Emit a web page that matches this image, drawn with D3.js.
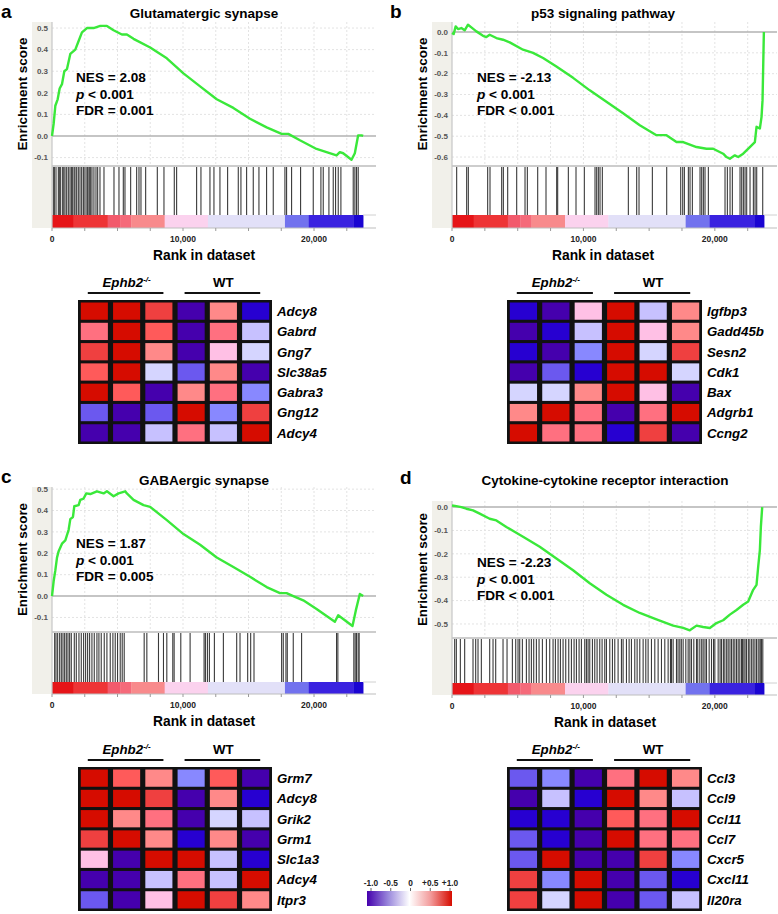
<!DOCTYPE html>
<html><head><meta charset="utf-8">
<script src="https://cdn.jsdelivr.net/npm/d3@7"></script>
<style>
body{margin:0;background:#fff}
svg{display:block;font-family:Arial,"Liberation Sans",Helvetica,sans-serif}
</style>
</head><body>
<svg id="fig" width="778" height="914"></svg>
<script>
// ---------------- DATA ----------------
const N_RANKED = 23750;          // genes in ranked list
const RANK_AXIS_MAX = 24730;     // right end of rank axis
const rankTicks = [0,2500,5000,7500,10000,12500,15000,17500,20000,22500];
const rankTickLabels = [0,10000,20000];

// ranked-list ramp (rank breakpoints and metric level of each block)
const rampBreaks = [0,1650,4250,5200,6050,8600,11900,17780,19600,23000,23750];
const rampLevels = [1.0,0.85,0.65,0.55,0.4,0.15,-0.1,-0.5,-0.8,-1.0];

// a: Glutamatergic synapse
const glutESRank  = [0,127,254,432,584,762,940,1143,1397,1778,2032,2286,2667,3175,3683,4191,4699,5334,5715,6223,7493,8763,10033,11303,12573,13843,15113,16383,17526,18034,18923,20193,20955,21717,21971,22225,22860,23114,23368,23622,23750];
const glutESValue = [0,0.057,0.14,0.17,0.22,0.24,0.30,0.31,0.38,0.40,0.44,0.48,0.50,0.50,0.51,0.51,0.49,0.47,0.47,0.45,0.41,0.36,0.29,0.23,0.17,0.13,0.08,0.04,0.01,0.01,-0.02,-0.06,-0.075,-0.09,-0.075,-0.08,-0.11,-0.08,0.003,0.003,0];
const glutHits = [100,180,305,483,560,661,814,900,992,1120,1246,1373,1480,1577,1690,1755,1882,2009,2136,2264,2391,2450,2594,2696,2750,2849,2951,3052,3200,3357,3485,3662,3968,4731,5112,5443,5570,6003,6461,6639,6791,7148,8038,8546,9334,9512,11038,11369,12056,12361,12819,13404,14218,14421,14854,15362,15795,16379,16888,17778,17905,18287,18974,19941,20525,20703,21136,21466,21644,21848,22051,22992,23119,23246,23373];
const glutStats = ["NES = 2.08","< 0.001","FDR = 0.001"];
const glutGenes = ["Adcy8","Gabrd","Gng7","Slc38a5","Gabra3","Gng12","Adcy4"];
const glutHeat = [
  [0.92,0.92,0.75,-0.92,0.25,-0.75],
  [0.42,0.92,0.58,-0.92,0.42,-0.25],
  [0.75,0.92,0.25,-0.92,0.08,-0.08],
  [0.58,0.92,-0.08,-0.58,0.25,-0.92],
  [0.92,0.58,-0.92,0.25,0.42,-0.42],
  [-0.58,-0.92,-0.58,0.92,-0.42,0.75],
  [-0.92,-0.92,-0.25,0.42,-0.25,0.92]
];

// b: p53 signaling pathway
const p53ESRank  = [0,127,279,457,711,964,1218,1472,1853,2360,2614,2868,3376,3883,4391,5406,6167,6929,7944,9213,10482,11751,13020,14289,15558,16319,17081,17588,18604,19365,19873,20634,20888,21142,21522,21776,22157,22664,23045,23172,23426,23553,23629,23680,23731];
const p53ESValue = [-0.005,-0.01,0.027,0.014,0.019,0.008,0.035,0.022,0.003,-0.018,-0.024,-0.013,-0.029,-0.037,-0.05,-0.085,-0.10,-0.125,-0.166,-0.22,-0.28,-0.335,-0.39,-0.447,-0.495,-0.495,-0.528,-0.528,-0.552,-0.56,-0.56,-0.584,-0.60,-0.608,-0.592,-0.60,-0.584,-0.552,-0.528,-0.455,-0.463,-0.407,-0.327,-0.166,0];
const p53Hits = [355,1116,1243,2714,2892,3780,3907,4237,4922,5556,5734,6520,7153,7965,8041,8853,9436,10070,10882,11009,11136,11263,11440,13419,14053,14231,15246,16337,17403,17555,17682,17986,18112,18290,18873,19000,19127,19253,19507,20775,20953,21156,21333,21917,22044,22171,22298,22424,22678,22932,23059,23186,23643];
const p53Stats = ["NES = -2.13","< 0.001","FDR < 0.001"];
const p53Genes = ["Igfbp3","Gadd45b","Sesn2","Cdk1","Bax","Adgrb1","Ccng2"];
const p53Heat = [
  [-0.75,-0.92,0.08,0.92,-0.25,0.25],
  [-0.92,-0.75,-0.25,0.92,0.08,0.25],
  [-0.75,-0.92,-0.42,0.92,-0.08,0.75],
  [-0.92,-0.58,-0.75,0.92,0.92,-0.08],
  [-0.08,-0.08,0.25,0.92,0.08,-0.92],
  [0.25,0.92,0.42,-0.92,0.42,0.92],
  [0.92,0.42,0.42,-0.75,0.75,-0.92]
];

// c: GABAergic synapse
const gabaESRank  = [0,127,254,381,508,762,1016,1270,1397,1600,1702,2032,2159,2413,2616,2921,3429,3937,4191,4699,5080,5588,5715,6223,6985,7493,8763,10033,11303,12573,13843,15113,16383,17399,17907,18415,19177,20193,21590,21844,22936,23190,23495,23750];
const gabaESValue = [0,0.07,0.12,0.18,0.21,0.245,0.26,0.31,0.36,0.37,0.42,0.425,0.45,0.456,0.48,0.477,0.49,0.48,0.49,0.467,0.48,0.49,0.48,0.45,0.425,0.417,0.355,0.29,0.24,0.18,0.136,0.09,0.042,0.014,0.014,0,-0.02,-0.06,-0.12,-0.09,-0.14,-0.067,0.01,0];
const gabaHits = [203,305,432,584,711,838,965,1092,1219,1346,1473,1702,1854,2057,2235,2413,2565,2718,2870,3048,3226,3429,3581,3759,3988,4191,4445,4648,4826,5004,5207,5359,5512,7036,7239,8128,8509,8763,9220,9322,9830,10541,11608,11709,11862,12014,12395,13081,14097,14351,14935,15164,15418,17526,17653,17856,17958,18415,19050,21717,21819,23038,23139,23241,23368,23444];
const gabaStats = ["NES = 1.87","< 0.001","FDR = 0.005"];
const gabaGenes = ["Grm7","Adcy8","Grik2","Grm1","Slc1a3","Adcy4","Itpr3"];
const gabaHeat = [
  [0.92,0.58,0.25,-0.42,0.58,-0.92],
  [0.92,0.92,0.75,-0.92,0.25,-0.75],
  [0.92,0.25,0.42,-0.92,-0.08,-0.25],
  [0.75,0.92,0.25,-0.75,0.25,-0.92],
  [0.08,-0.92,0.92,0.92,-0.25,-0.75],
  [-0.92,-0.92,-0.25,0.42,-0.25,0.92],
  [-0.58,-0.92,0.08,0.92,0.75,0.25]
];

// d: Cytokine-cytokine receptor interaction
const cytoESRank  = [0,330,711,1091,1599,2107,2868,3376,4137,5406,6675,7944,9213,10482,11751,13020,14289,15558,16827,17588,18096,18604,19111,19619,20126,20634,21142,21649,22157,22537,22918,23172,23299,23426,23502,23604];
const cytoESValue = [0.007,0.004,0,-0.007,-0.014,-0.028,-0.05,-0.057,-0.085,-0.127,-0.17,-0.22,-0.27,-0.326,-0.375,-0.418,-0.453,-0.48,-0.507,-0.517,-0.527,-0.507,-0.513,-0.517,-0.496,-0.484,-0.46,-0.44,-0.418,-0.404,-0.354,-0.333,-0.255,-0.184,-0.085,0];
const cytoHits = [203,330,635,964,1599,1802,1980,2233,2868,3122,3325,3883,4188,4594,4848,5025,5152,5355,5660,5863,6040,6218,6421,6624,6878,7183,7436,7690,7868,8071,8249,8452,8655,8883,9086,9289,9467,9670,9847,10101,10228,10355,10482,10685,10863,11040,11243,11421,11624,11751,12005,12208,12385,12639,12893,13020,13274,13477,13654,13908,14086,14289,14543,14746,14923,15177,15431,15685,15939,16192,16446,16624,16700,16827,17081,17200,17335,17450,17588,17791,17969,18100,18223,18400,18604,18700,18857,19000,19111,19250,19365,19568,19746,19900,20000,20253,20400,20507,20650,20761,20900,21015,21150,21269,21400,21522,21650,21776,21900,22030,22100,22208,22300,22411,22550,22664,22800,22918,23050,23172,23300,23426,23500,23553,23650];
const cytoStats = ["NES = -2.23","< 0.001","FDR < 0.001"];
const cytoGenes = ["Ccl3","Ccl9","Ccl11","Ccl7","Cxcr5","Cxcl11","Il20ra"];
const cytoHeat = [
  [-0.58,-0.42,-0.92,0.42,0.92,0.25],
  [-0.92,-0.25,-0.75,0.92,0.25,-0.25],
  [-0.75,-0.75,-0.92,0.58,0.42,0.92],
  [-0.58,-0.75,-0.92,0.92,0.42,0.42],
  [-0.58,0.92,-0.92,-0.92,0.75,-0.42],
  [0.75,-0.42,0.92,-0.92,-0.58,-0.75],
  [0.75,-0.08,0.92,-0.92,-0.58,-0.25]
];

const samples = ["K1","K2","K3","W1","W2","W3"];
const colorbarTicks = [-1.0,-0.5,0,0.5,1.0];
const colorbarLabels = ["-1.0","-0.5","0","+0.5","+1.0"];

// ---------------- STYLE / LAYOUT ----------------
const gseaPalette = ["#4500AD","#2700D1","#6B58EF","#8888FF","#C7C1FF","#D5D5FF","#FFC0E5","#FF8989","#FF7080","#FF5A5A","#EF4040","#D60C00"];
const heatColor = d3.scaleQuantize().domain([-1,1]).range(gseaPalette);
const rampColor = d3.scaleLinear()
  .domain([-1.0,-0.8,-0.5,-0.1,0.15,0.4,0.55,0.65,0.85,1.0])
  .range(["#1a04d2","#3a22e0","#7272ee","#e2e0f8","#fbd2ee","#f88a8c","#f56a7a","#f25a6c","#ee3436","#e61418"]);

const panels = [
  {label:"a", labelXY:[1,18], title:"Glutamatergic synapse", titleXY:[204,17.5],
   plotX:[52,376], es:[22,166], esDomain:[-0.139,0.528], yTicks:[-0.1,0,0.1,0.2,0.3,0.4,0.5],
   bar:[166,215], ramp:[215,228], bandX:32, ylabX:22, nesX:76, nesY:[82,98.5,115],
   rank:glutESRank, val:glutESValue, hits:glutHits, stats:glutStats, genes:glutGenes, heat:glutHeat,
   hx:[78,272], hy:[300,444], hdrY:286.5, lineY:293, labX:277},
  {label:"b", labelXY:[390,18], title:"p53 signaling pathway", titleXY:[603,17.5],
   plotX:[452,777], es:[22,166], esDomain:[-0.643,0.048], yTicks:[-0.6,-0.5,-0.4,-0.3,-0.2,-0.1,0],
   bar:[166,215], ramp:[215,228], bandX:432, ylabX:422, nesX:477, nesY:[82,98.5,115],
   rank:p53ESRank, val:p53ESValue, hits:p53Hits, stats:p53Stats, genes:p53Genes, heat:p53Heat,
   hx:[507,702], hy:[300,444], hdrY:286.5, lineY:293, labX:707},
  {label:"c", labelXY:[1,483], title:"GABAergic synapse", titleXY:[204,484.5],
   plotX:[52,376], es:[487,632], esDomain:[-0.168,0.51], yTicks:[-0.1,0,0.1,0.2,0.3,0.4,0.5],
   bar:[632,682], ramp:[682,694], bandX:32, ylabX:22, nesX:76, nesY:[548,564.5,581],
   rank:gabaESRank, val:gabaESValue, hits:gabaHits, stats:gabaStats, genes:gabaGenes, heat:gabaHeat,
   hx:[78,272], hy:[767,911], hdrY:753.5, lineY:760, labX:277},
  {label:"d", labelXY:[400,484], title:"Cytokine-cytokine receptor interaction", titleXY:[605,484.5],
   plotX:[452,777], es:[501,638], esDomain:[-0.56,0.026], yTicks:[-0.5,-0.4,-0.3,-0.2,-0.1,0],
   bar:[638,683], ramp:[683,695], bandX:432, ylabX:422, nesX:477, nesY:[567,583.5,600],
   rank:cytoESRank, val:cytoESValue, hits:cytoHits, stats:cytoStats, genes:cytoGenes, heat:cytoHeat,
   hx:[507,702], hy:[767,911], hdrY:753.5, lineY:760, labX:707}
];

const svg = d3.select("#fig");

function drawPanel(P) {
  const g = svg.append("g");
  const x = d3.scaleLinear().domain([0, RANK_AXIS_MAX]).range(P.plotX);
  const y = d3.scaleLinear().domain(P.esDomain).range([P.es[1], P.es[0]]);
  const [x0, x1] = P.plotX;

  // left beige band
  g.append("rect").attr("x", P.bandX).attr("y", P.es[0]).attr("width", x0 - P.bandX)
    .attr("height", P.ramp[1] - P.es[0]).attr("fill", "#f1f0ea");

  // grid
  g.selectAll(".vg").data(rankTicks.slice(1)).join("line")
    .attr("x1", d => x(d)).attr("x2", d => x(d)).attr("y1", P.es[0]).attr("y2", P.es[1])
    .attr("stroke", "#e3e3e3").attr("stroke-dasharray", "2,2");
  g.selectAll(".hg").data(P.yTicks.filter(t => Math.abs(t) > 1e-9)).join("line")
    .attr("x1", x0).attr("x2", x1).attr("y1", d => y(d)).attr("y2", d => y(d))
    .attr("stroke", "#e3e3e3").attr("stroke-dasharray", "2,2");

  // zero line
  g.append("line").attr("x1", x0).attr("x2", x1).attr("y1", y(0)).attr("y2", y(0))
    .attr("stroke", "#b2b2b2").attr("stroke-width", 1.5);

  // y tick labels
  g.selectAll(".yt").data(P.yTicks).join("text")
    .attr("x", x0 - 4).attr("y", d => y(d)).attr("dy", "0.35em")
    .attr("text-anchor", "end").attr("font-size", 8).attr("font-weight", "bold").attr("fill", "#555")
    .text(d => (Math.round(d * 10) / 10).toFixed(1).replace(/^-0\.0$/, "0.0"));

  // barcode
  g.selectAll(".hit").data(P.hits).join("line")
    .attr("x1", d => x(d)).attr("x2", d => x(d)).attr("y1", P.bar[0] + 1).attr("y2", P.bar[1])
    .attr("stroke", "#3a3a3a").attr("stroke-width", 1.1);

  // ramp
  const segs = rampLevels.map((lv, i) => ({a: rampBreaks[i], b: rampBreaks[i + 1], lv}));
  g.selectAll(".ramp").data(segs).join("rect")
    .attr("x", d => x(d.a)).attr("width", d => x(d.b) - x(d.a) + 0.3)
    .attr("y", P.ramp[0]).attr("height", P.ramp[1] - P.ramp[0])
    .attr("fill", d => rampColor(d.lv));

  // separator lines
  g.append("line").attr("x1", x0).attr("x2", x1).attr("y1", P.es[1]).attr("y2", P.es[1])
    .attr("stroke", "#cdcdcd").attr("stroke-width", 2);
  g.append("line").attr("x1", x(N_RANKED)).attr("x2", x1).attr("y1", P.ramp[0]).attr("y2", P.ramp[0])
    .attr("stroke", "#d0d0d0").attr("stroke-width", 1);
  g.append("line").attr("x1", x0).attr("x2", x1).attr("y1", P.ramp[1]).attr("y2", P.ramp[1])
    .attr("stroke", "#bdbdbd").attr("stroke-width", 1.2);
  g.append("line").attr("x1", x0).attr("x2", x0).attr("y1", P.es[0]).attr("y2", P.ramp[1])
    .attr("stroke", "#c6c6c6").attr("stroke-width", 1.2);

  // x ticks
  g.selectAll(".xt").data(rankTicks).join("line")
    .attr("x1", d => x(d)).attr("x2", d => x(d)).attr("y1", P.ramp[1]).attr("y2", P.ramp[1] + 3)
    .attr("stroke", "#999");
  g.selectAll(".xl").data(rankTickLabels).join("text")
    .attr("x", d => x(d)).attr("y", P.ramp[1] + 14).attr("text-anchor", "middle")
    .attr("font-size", 8.5).attr("font-weight", "bold").attr("fill", "#222")
    .text(d => d3.format(",")(d));

  // ES curve
  const pts = P.rank.map((r, i) => [r, P.val[i]]);
  g.append("path").datum(pts)
    .attr("d", d3.line().x(d => x(d[0])).y(d => y(d[1])))
    .attr("fill", "none").attr("stroke", "#3ae83a").attr("stroke-width", 2.4)
    .attr("stroke-linejoin", "round");

  // labels
  g.append("text").attr("x", P.labelXY[0]).attr("y", P.labelXY[1])
    .attr("font-size", 19).attr("font-weight", "bold").text(P.label);
  g.append("text").attr("x", P.titleXY[0]).attr("y", P.titleXY[1]).attr("text-anchor", "middle")
    .attr("font-size", 13.5).attr("font-weight", "bold").text(P.title);
  g.append("text").attr("transform", `translate(${P.ylabX},${(P.es[0] + P.es[1]) / 2}) rotate(-90)`)
    .attr("text-anchor", "middle").attr("dy", "0.35em")
    .attr("font-size", 13.4).attr("font-weight", "bold").text("Enrichment score");
  g.append("text").attr("x", P.titleXY[0]).attr("y", P.ramp[1] + 32).attr("text-anchor", "middle")
    .attr("font-size", 13.8).attr("font-weight", "bold").text("Rank in dataset");

  // stats
  const st = g.append("g").attr("font-size", 13.6).attr("font-weight", "bold");
  st.append("text").attr("x", P.nesX).attr("y", P.nesY[0]).text(P.stats[0]);
  const pt = st.append("text").attr("x", P.nesX).attr("y", P.nesY[1]);
  pt.append("tspan").attr("font-style", "italic").text("p");
  pt.append("tspan").text(" " + P.stats[1]);
  st.append("text").attr("x", P.nesX).attr("y", P.nesY[2]).text(P.stats[2]);

  // heatmap
  const hx = d3.scaleBand().domain(samples).range([P.hx[0] + 1.5, P.hx[1] - 1.5]).paddingInner(0.16).paddingOuter(0.04);
  const hy = d3.scaleBand().domain(P.genes).range([P.hy[0] + 1.5, P.hy[1] - 1.5]).paddingInner(0.15).paddingOuter(0.05);
  g.append("rect").attr("x", P.hx[0]).attr("y", P.hy[0]).attr("width", P.hx[1] - P.hx[0])
    .attr("height", P.hy[1] - P.hy[0]).attr("fill", "#111");
  const cells = [];
  P.heat.forEach((row, i) => row.forEach((v, j) => cells.push({gene: P.genes[i], s: samples[j], v})));
  g.selectAll(".cell").data(cells).join("rect")
    .attr("x", d => hx(d.s)).attr("y", d => hy(d.gene))
    .attr("width", hx.bandwidth()).attr("height", hy.bandwidth())
    .attr("fill", d => heatColor(d.v));
  g.selectAll(".gene").data(P.genes).join("text")
    .attr("x", P.labX).attr("y", d => hy(d) + hy.bandwidth() / 2).attr("dy", "0.36em")
    .attr("font-size", 13.3).attr("font-weight", "bold").attr("font-style", "italic").text(d => d);

  // group headers
  const bw = hx.bandwidth();
  const groups = [{s: samples.slice(0, 3), name: "Ephb2"}, {s: samples.slice(3), name: "WT"}];
  groups.forEach(gr => {
    const a = hx(gr.s[0]) + 7, b = hx(gr.s[2]) + bw - 9;
    g.append("line").attr("x1", a).attr("x2", b).attr("y1", P.lineY).attr("y2", P.lineY)
      .attr("stroke", "#111").attr("stroke-width", 2);
    const cx = hx(gr.s[1]) + bw / 2;
    const t = g.append("text").attr("x", cx).attr("y", P.hdrY).attr("text-anchor", "middle")
      .attr("font-size", 13.3).attr("font-weight", "bold");
    if (gr.name === "Ephb2") {
      t.append("tspan").attr("font-style", "italic").text("Ephb2");
      t.append("tspan").attr("font-size", 8).attr("dy", -5).attr("font-style", "italic").text("-/-");
    } else {
      t.text("WT");
    }
  });
}

panels.forEach(drawPanel);

// colorbar
const cb = d3.scaleLinear().domain([-1, 1]).range([371, 450]);
const defs = svg.append("defs");
const grad = defs.append("linearGradient").attr("id", "cbgrad");
[[0, gseaPalette[0]], [0.25, "#9a88dc"], [0.5, "#ffffff"], [0.75, "#f29a9a"], [1, gseaPalette[11]]]
  .forEach(s => grad.append("stop").attr("offset", s[0]).attr("stop-color", s[1]));
svg.append("rect").attr("x", 367).attr("y", 891).attr("width", 85).attr("height", 15).attr("fill", "url(#cbgrad)");
svg.selectAll(".cbt").data(colorbarTicks).join("line")
  .attr("x1", d => cb(d)).attr("x2", d => cb(d)).attr("y1", 888).attr("y2", 891).attr("stroke", "#666");
svg.selectAll(".cbl").data(colorbarTicks).join("text")
  .attr("x", d => cb(d)).attr("y", 886).attr("text-anchor", "middle")
  .attr("font-size", 8.3).attr("font-weight", "bold").attr("fill", "#222")
  .text((d, i) => colorbarLabels[i]);
</script>
</body></html>
